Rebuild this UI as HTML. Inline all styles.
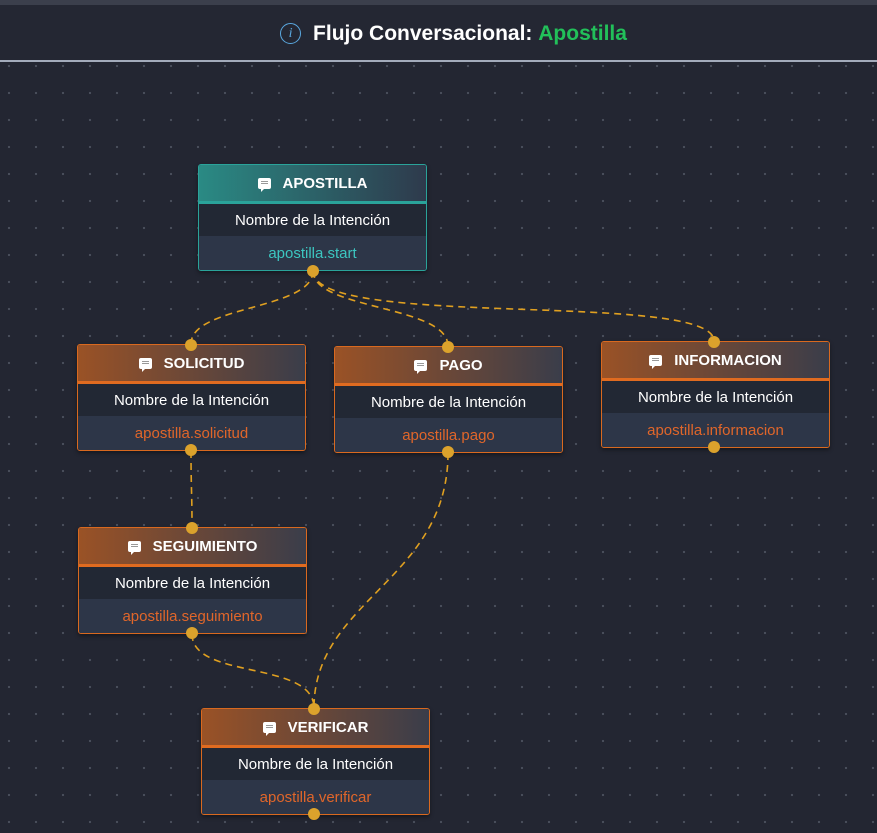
<!DOCTYPE html>
<html><head><meta charset="utf-8"><style>
*{margin:0;padding:0;box-sizing:border-box}
body{width:877px;height:833px;overflow:hidden;background:#232632;font-family:"Liberation Sans",sans-serif;position:relative}
.top{position:absolute;left:0;top:0;width:877px;height:5px;background:#3b3f4c}
.hdr{position:absolute;left:0;top:5px;width:877px;height:57px;background:#242733;border-bottom:2px solid #a3abbb;display:flex;align-items:center;justify-content:center;color:#fff;font-weight:bold;font-size:21px;padding-left:30px;padding-top:2px}
.hdr .i{width:21px;height:21px;border:1.5px solid #5aa8e0;border-radius:50%;color:#5aa8e0;font-size:14px;font-style:italic;font-family:"Liberation Serif",serif;display:inline-flex;align-items:center;justify-content:center;margin-right:12px;font-weight:normal}
.grid{position:absolute;left:0;top:64px;width:877px;height:769px;background-image:radial-gradient(circle,#4a4f5c 1px,transparent 1.3px);background-size:27px 27px;background-position:-4.5px -11.5px}
.node{position:absolute;width:229px;height:107px;border:1px solid #d9691f;border-radius:3px;background:#242a38;overflow:hidden;box-shadow:0 2px 4px rgba(0,0,0,.4)}
.node .h{height:39px;background:linear-gradient(90deg,#9a5226,#3a3d4a);border-bottom:3px solid #e06b20;color:#fff;font-weight:bold;font-size:15px;display:flex;align-items:center;justify-content:center}
.node .r1{height:32px;background:#222834;color:#fff;font-size:15px;display:flex;align-items:center;justify-content:center}
.node .r2{height:35px;background:#2d3648;color:#e0662a;font-size:15px;display:flex;align-items:center;justify-content:center}
.node.t{border-color:#2aa39a}
.node.t .h{background:linear-gradient(90deg,#2a8a84,#2e3a4c);border-bottom-color:#2aa39a}
.node.t .r2{color:#3cc6c0}
.ic{display:inline-block;width:13px;height:11px;background:#fff;border-radius:2px;margin-right:12px;position:relative}
.ic:after{content:"";position:absolute;left:3px;bottom:-3px;border-left:3px solid #fff;border-bottom:3px solid transparent}
.ic:before{content:"";position:absolute;left:3px;top:3px;width:7px;height:1px;background:#999;box-shadow:0 2px 0 #999}
svg{position:absolute;left:0;top:0}
</style></head><body>
<div class="top"></div>
<div class="hdr"><span class="i">i</span>Flujo Conversacional:&nbsp;<span style="color:#22c05a">Apostilla</span></div>
<div class="grid"></div>
<svg width="877" height="833">
<g fill="none" stroke="#e0a020" stroke-width="1.6" stroke-dasharray="7 5">
<path d="M313 271 C313 310,191 305,191 344"/>
<path d="M313 271 C313 310,448 305,448 346"/>
<path d="M313 271 C313 330,714 290,714 341"/>
<path d="M191 451 C191 490,192 490,192 527"/>
<path d="M192 634 C192 680,314 660,314 708"/>
<path d="M448 453 C448 580,314 600,314 708"/>
</g>
</svg>
<div class="node t" style="left:198px;top:164px"><div class="h"><span class="ic"></span>APOSTILLA</div><div class="r1">Nombre de la Intención</div><div class="r2">apostilla.start</div></div>
<div class="node" style="left:77px;top:344px"><div class="h"><span class="ic"></span>SOLICITUD</div><div class="r1">Nombre de la Intención</div><div class="r2">apostilla.solicitud</div></div>
<div class="node" style="left:334px;top:346px"><div class="h"><span class="ic"></span>PAGO</div><div class="r1">Nombre de la Intención</div><div class="r2">apostilla.pago</div></div>
<div class="node" style="left:601px;top:341px"><div class="h"><span class="ic"></span>INFORMACION</div><div class="r1">Nombre de la Intención</div><div class="r2">apostilla.informacion</div></div>
<div class="node" style="left:78px;top:527px"><div class="h"><span class="ic"></span>SEGUIMIENTO</div><div class="r1">Nombre de la Intención</div><div class="r2">apostilla.seguimiento</div></div>
<div class="node" style="left:201px;top:708px"><div class="h"><span class="ic"></span>VERIFICAR</div><div class="r1">Nombre de la Intención</div><div class="r2">apostilla.verificar</div></div>
<svg width="877" height="833"><g fill="#dba22c">
<circle cx="313" cy="271" r="6"/>
<circle cx="191" cy="345" r="6"/><circle cx="191" cy="450" r="6"/>
<circle cx="448" cy="347" r="6"/><circle cx="448" cy="452" r="6"/>
<circle cx="714" cy="342" r="6"/><circle cx="714" cy="447" r="6"/>
<circle cx="192" cy="528" r="6"/><circle cx="192" cy="633" r="6"/>
<circle cx="314" cy="709" r="6"/><circle cx="314" cy="814" r="6"/>
</g></svg>
</body></html>
